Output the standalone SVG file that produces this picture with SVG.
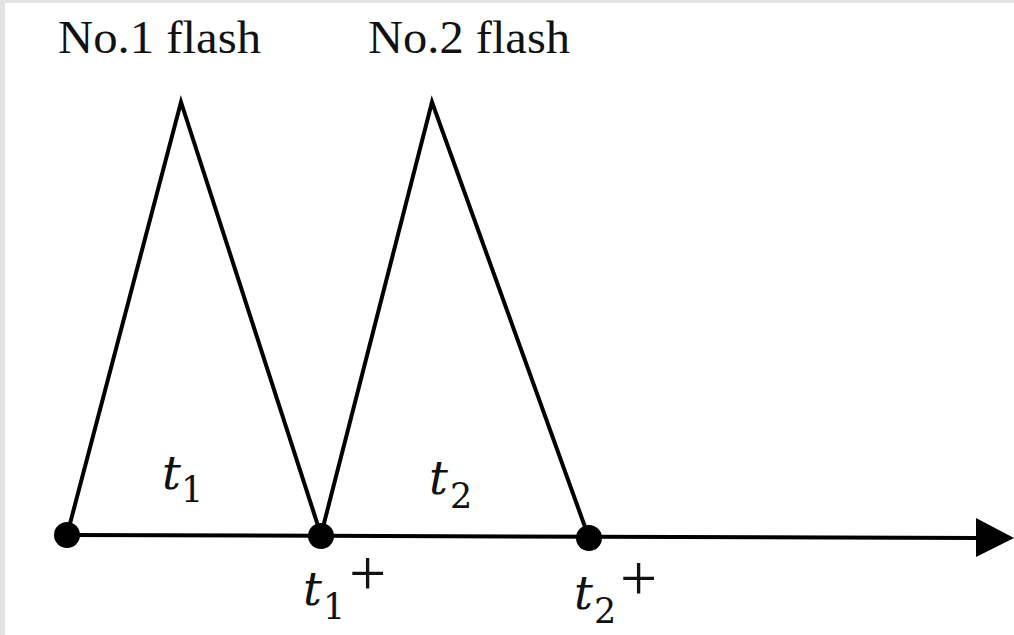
<svg xmlns="http://www.w3.org/2000/svg" width="1014" height="635" viewBox="0 0 1014 635">
<defs>
<style>
.ln{stroke:#000;stroke-width:4;fill:none;stroke-linejoin:miter}
.dot{fill:#000}
.title{font-family:"Liberation Serif","DejaVu Serif",serif;font-size:47px;fill:#111}
.m{font-family:"DejaVu Serif","Liberation Serif",serif;font-style:italic;fill:#111;font-size:47px}
.s{font-family:"DejaVu Serif","Liberation Serif",serif;fill:#111;font-size:35px}
.p{font-family:"Liberation Serif",serif;fill:#111;font-size:66px}
</style>
</defs>
<rect x="0" y="0" width="1014" height="635" fill="#e3e3e3"/>
<rect x="5" y="3" width="1009" height="632" fill="#fff"/>
<g id="connectors">
<path class="ln" d="M67,535 L181,102 L321,535 L432,102 L589,538"/>
<line class="ln" x1="67" y1="535" x2="978" y2="538"/>
<path d="M976,518 L1014,538 L976,557 Z" fill="#000"/>
</g>
<g id="node-p0"><circle class="dot" cx="67" cy="535" r="13"/></g>
<g id="node-p1"><circle class="dot" cx="321" cy="536" r="13"/></g>
<g id="node-p2"><circle class="dot" cx="589" cy="538" r="13"/></g>
<g id="label-flash1"><text class="title" x="58" y="53" textLength="203" lengthAdjust="spacingAndGlyphs">No.1 flash</text></g>
<g id="label-flash2"><text class="title" x="368" y="53" textLength="202" lengthAdjust="spacingAndGlyphs">No.2 flash</text></g>
<g id="label-t1"><text class="m" x="162" y="489">t</text><text class="s" x="181" y="502">1</text></g>
<g id="label-t2"><text class="m" x="429" y="494">t</text><text class="s" x="450" y="508">2</text></g>
<g id="label-t1p"><text class="m" x="303" y="605">t</text><text class="s" x="323" y="619">1</text><text class="p" x="349" y="595">+</text></g>
<g id="label-t2p"><text class="m" x="574" y="609">t</text><text class="s" x="594" y="623">2</text><text class="p" x="620" y="600">+</text></g>
</svg>
